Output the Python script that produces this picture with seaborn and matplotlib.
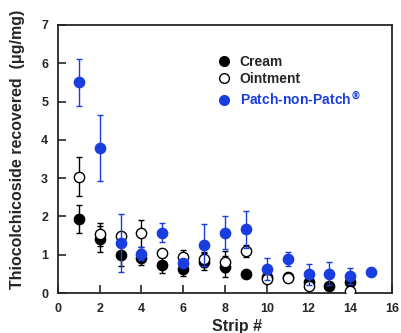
import numpy as np
import pandas as pd
import matplotlib
matplotlib.use("Agg")
import matplotlib.pyplot as plt
import seaborn as sns
from matplotlib.lines import Line2D

nan = np.nan
strip = [1, 2, 3, 4, 5, 6, 7, 8, 9, 10, 11, 12, 13, 14, 15]
cream = [1.93, 1.41, 1.00, 0.92, 0.73, 0.62, 0.82, 0.69, 0.50, 0.43, 0.42, 0.28, 0.18, 0.28, nan]
cream_err = [0.36, 0.33, 0.30, 0.20, 0.20, 0.18, 0.22, 0.28, 0.08, 0.06, 0.06, 0.06, 0.05, 0.05, nan]
ointment = [3.04, 1.54, 1.50, 1.56, 1.05, 0.95, 0.88, 0.82, 1.10, 0.36, 0.38, 0.18, nan, 0.06, nan]
ointment_err = [0.50, 0.30, 0.08, 0.36, 0.08, 0.18, 0.20, 0.28, 0.15, 0.08, 0.08, 0.05, nan, 0.03, nan]
patch = [5.50, 3.79, 1.31, 1.02, 1.57, 0.78, 1.25, 1.58, 1.66, 0.63, 0.89, 0.49, 0.51, 0.45, 0.54]
patch_err = [0.62, 0.86, 0.75, 0.17, 0.25, 0.10, 0.55, 0.44, 0.49, 0.29, 0.19, 0.27, 0.29, 0.21, 0.0]

blue = '#1a3de0'

sns.set_style('ticks')
plt.rcParams['font.family'] = ['Liberation Sans', 'DejaVu Sans']
plt.rcParams['font.weight'] = 'bold'
plt.rcParams['mathtext.default'] = 'bf'

fig = plt.figure(figsize=(4.01, 3.33), dpi=100)
ax = fig.add_axes([0.1446, 0.12, 0.833, 0.805])

series = [
    ('Cream', cream, cream_err, 'black', 'black'),
    ('Ointment', ointment, ointment_err, 'black', 'white'),
    ('Patch-non-Patch$^{®}$', patch, patch_err, blue, blue),
]

for i, (name, y, err, ec, fc) in enumerate(series):
    ax.errorbar(strip, y, yerr=err, fmt='none', ecolor=ec, elinewidth=1,
                capsize=2, capthick=1, zorder=2 + i)
    df = pd.DataFrame({'x': strip, 'y': y}).dropna()
    sns.scatterplot(data=df, x='x', y='y', ax=ax, s=55, color=fc,
                    edgecolor=ec, linewidth=1, zorder=3 + i, legend=False)

ax.set_xlim(0, 16)
ax.set_ylim(0, 7)
ax.set_xticks(range(0, 17, 2))
ax.set_yticks(range(0, 8))
ax.tick_params(direction='in', length=6, width=1.2, labelsize=9, pad=7)
for lab in ax.get_xticklabels() + ax.get_yticklabels():
    lab.set_fontweight('bold')
for s in ax.spines.values():
    s.set_linewidth(1.3)
ax.set_xlabel('Strip #', fontsize=11.5, fontweight='bold')
ax.set_ylabel('Thiocolchicoside recovered  (μg/mg)', fontsize=11.5,
              fontweight='bold')
ax.xaxis.set_label_coords(0.536, -0.095)
ax.yaxis.set_label_coords(-0.099, 0.537)

handles = [Line2D([], [], ls='none', marker='o', ms=7, mfc=fc, mec=ec, mew=1)
           for _, _, _, ec, fc in series]
leg = ax.legend(handles, [s[0] for s in series], loc='upper left',
                bbox_to_anchor=(0.44, 0.935), frameon=False, fontsize=10,
                handletextpad=0.6, labelspacing=0.22, handlelength=1)
leg.get_texts()[2].set_color(blue)

fig.savefig('out.png', dpi=100)
